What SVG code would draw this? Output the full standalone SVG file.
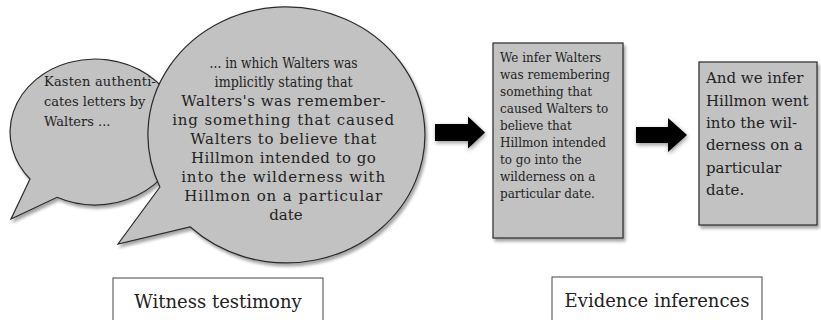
<svg xmlns="http://www.w3.org/2000/svg" width="821" height="320" viewBox="0 0 821 320">
<style>
.shape{fill:#c2c2c2;stroke:#2a2a2a;stroke-width:1.2;filter:url(#sh)}
.arrow{fill:#000;filter:url(#ash)}
.t{font-family:"DejaVu Serif","Liberation Serif",serif;fill:#222}
.lab{fill:#fff;stroke:#444;stroke-width:1}
</style>
<defs>
<filter id="sh" x="-10%" y="-10%" width="130%" height="130%">
<feDropShadow dx="2" dy="3" stdDeviation="1.5" flood-color="#000" flood-opacity="0.35"/>
</filter>
<filter id="ash" x="-30%" y="-30%" width="160%" height="160%">
<feDropShadow dx="1" dy="2" stdDeviation="2" flood-color="#000" flood-opacity="0.4"/>
</filter>
</defs>
<rect width="821" height="320" fill="#fff"/>

<g id="bubble-kasten">
<path class="shape" d="M30,179 L11,219 L57,197.3 A85,73 0 1 0 30,179 Z"/>
<text class="t" font-size="13"><tspan x="44" y="86" textLength="112" lengthAdjust="spacing">Kasten authenti-</tspan><tspan x="44" y="106">cates letters by</tspan><tspan x="44" y="126">Walters ...</tspan></text>
</g>

<g id="bubble-walters">
<path class="shape" d="M159.9,187 L118,244 L190,226.8 A138.5,128 0 1 0 159.9,187 Z"/>
<text class="t" font-size="15" text-anchor="middle">
<tspan x="286" y="68" font-size="14" textLength="148" lengthAdjust="spacingAndGlyphs">... in which Walters was</tspan>
<tspan x="286" y="87" font-size="14" textLength="138" lengthAdjust="spacingAndGlyphs">implicitly stating that</tspan>
<tspan x="286" y="106" textLength="204" lengthAdjust="spacing">Walters's was remember-</tspan>
<tspan x="286" y="125" textLength="222" lengthAdjust="spacing">ing something that caused</tspan>
<tspan x="286" y="144" textLength="186" lengthAdjust="spacing">Walters to believe that</tspan>
<tspan x="286" y="163" textLength="185" lengthAdjust="spacing">Hillmon intended to go</tspan>
<tspan x="286" y="182" textLength="204" lengthAdjust="spacing">into the wilderness with</tspan>
<tspan x="286" y="201" textLength="198" lengthAdjust="spacing">Hillmon on a particular</tspan>
<tspan x="286" y="220">date</tspan>
</text>
</g>

<g id="connectors">
<path class="arrow" d="M435,124 H468 V116.5 L485,132.5 L468,148.5 V141 H435 Z"/>
<path class="arrow" d="M636,127 H668 V118 L687,135 L668,152 V143 H636 Z"/>
</g>

<g id="box-infer-walters">
<rect class="shape" x="493" y="43" width="130" height="195"/>
<text class="t" font-size="12">
<tspan x="500" y="62">We infer Walters</tspan>
<tspan x="500" y="79">was remembering</tspan>
<tspan x="500" y="96">something that</tspan>
<tspan x="500" y="113">caused Walters to</tspan>
<tspan x="500" y="130">believe that</tspan>
<tspan x="500" y="147">Hillmon intended</tspan>
<tspan x="500" y="164">to go into the</tspan>
<tspan x="500" y="181">wilderness on a</tspan>
<tspan x="500" y="198">particular date.</tspan>
</text>
</g>

<g id="box-infer-hillmon">
<rect class="shape" x="699" y="62" width="118" height="163"/>
<text class="t" font-size="15">
<tspan x="706" y="83">And we infer</tspan>
<tspan x="706" y="106">Hillmon went</tspan>
<tspan x="706" y="128">into the wil-</tspan>
<tspan x="706" y="150">derness on a</tspan>
<tspan x="706" y="173">particular</tspan>
<tspan x="706" y="195">date.</tspan>
</text>
</g>

<g id="label-witness">
<rect class="lab" x="113" y="278" width="210" height="60"/>
<text class="t" font-size="18" x="218" y="308" text-anchor="middle">Witness testimony</text>
</g>

<g id="label-evidence">
<rect class="lab" x="552" y="277" width="210" height="60"/>
<text class="t" font-size="18" x="657" y="307" text-anchor="middle">Evidence inferences</text>
</g>
</svg>
